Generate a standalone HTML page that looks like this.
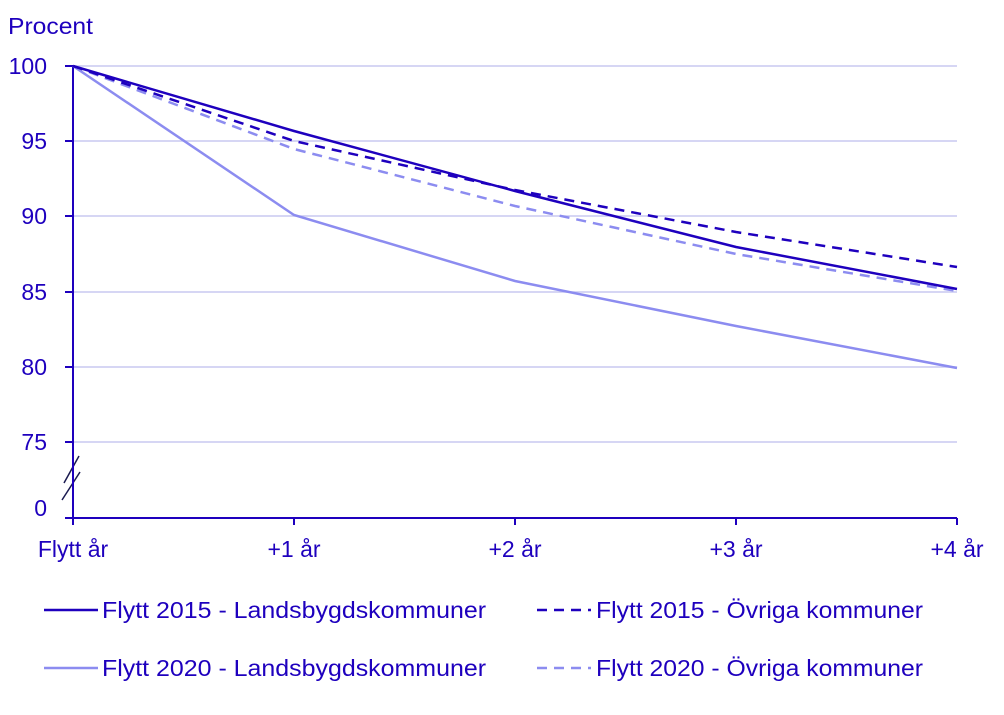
<!DOCTYPE html>
<html><head><meta charset="utf-8"><style>
body{margin:0;background:#fff}
svg text{font-family:"Liberation Sans",sans-serif;fill:#1e00be}
</style></head><body>
<svg width="1004" height="710" xmlns="http://www.w3.org/2000/svg">
<g stroke="#c8c8f0" stroke-width="1.5">
<line x1="73" x2="957" y1="66" y2="66"/><line x1="73" x2="957" y1="141" y2="141"/>
<line x1="73" x2="957" y1="216" y2="216"/><line x1="73" x2="957" y1="292" y2="292"/>
<line x1="73" x2="957" y1="367" y2="367"/><line x1="73" x2="957" y1="442" y2="442"/>
</g>
<polygon points="79,454 84,460 67,502 58,496" fill="#fff"/>
<g stroke="#1a1a50" stroke-width="1.5"><line x1="79" y1="456" x2="64" y2="483"/><line x1="80" y1="472" x2="62" y2="500"/></g>
<g stroke="#1e00be" stroke-width="2">
<line x1="73" x2="73" y1="66" y2="525"/><line x1="65" x2="957" y1="518" y2="518"/>
<line x1="65" x2="73" y1="66" y2="66"/><line x1="65" x2="73" y1="141" y2="141"/>
<line x1="65" x2="73" y1="216" y2="216"/><line x1="65" x2="73" y1="292" y2="292"/>
<line x1="65" x2="73" y1="367" y2="367"/><line x1="65" x2="73" y1="442" y2="442"/>
<line x1="294" x2="294" y1="518" y2="525"/><line x1="515" x2="515" y1="518" y2="525"/>
<line x1="736" x2="736" y1="518" y2="525"/><line x1="957" x2="957" y1="518" y2="525"/>
</g>
<g font-size="23" text-anchor="end">
<text x="47" y="74">100</text><text x="47" y="149">95</text><text x="47" y="224">90</text>
<text x="47" y="300">85</text><text x="47" y="375">80</text><text x="47" y="450">75</text><text x="47" y="516">0</text>
</g>
<text x="8" y="34" font-size="23" textLength="85" lengthAdjust="spacingAndGlyphs">Procent</text>
<g font-size="23" text-anchor="middle">
<text x="73" y="557">Flytt år</text><text x="294" y="557">+1 år</text><text x="515" y="557">+2 år</text>
<text x="736" y="557">+3 år</text><text x="957" y="557">+4 år</text>
</g>
<g fill="none" stroke-width="2.5">
<polyline stroke="#8c8cf0" points="73,66 294,215 515,281 736,326 957,368"/>
<polyline stroke="#8c8cf0" stroke-dasharray="10,7" points="73,66 294,149 515,206 736,254 957,291"/>
<polyline stroke="#1e00be" points="73,66 294,131 515,191 736,247 957,289"/>
<polyline stroke="#1e00be" stroke-dasharray="10,7" points="73,66 294,141 515,190 736,232 957,267"/>
<line x1="44" x2="98" y1="610" y2="610" stroke="#1e00be"/>
<line x1="537" x2="591" y1="610" y2="610" stroke="#1e00be" stroke-dasharray="10,7"/>
<line x1="44" x2="98" y1="668" y2="668" stroke="#8c8cf0"/>
<line x1="537" x2="591" y1="668" y2="668" stroke="#8c8cf0" stroke-dasharray="10,7"/>
</g>
<g font-size="23">
<text x="102" y="618" textLength="384" lengthAdjust="spacingAndGlyphs">Flytt 2015 - Landsbygdskommuner</text>
<text x="596" y="618" textLength="327" lengthAdjust="spacingAndGlyphs">Flytt 2015 - Övriga kommuner</text>
<text x="102" y="676" textLength="384" lengthAdjust="spacingAndGlyphs">Flytt 2020 - Landsbygdskommuner</text>
<text x="596" y="676" textLength="327" lengthAdjust="spacingAndGlyphs">Flytt 2020 - Övriga kommuner</text>
</g>
</svg>
</body></html>
